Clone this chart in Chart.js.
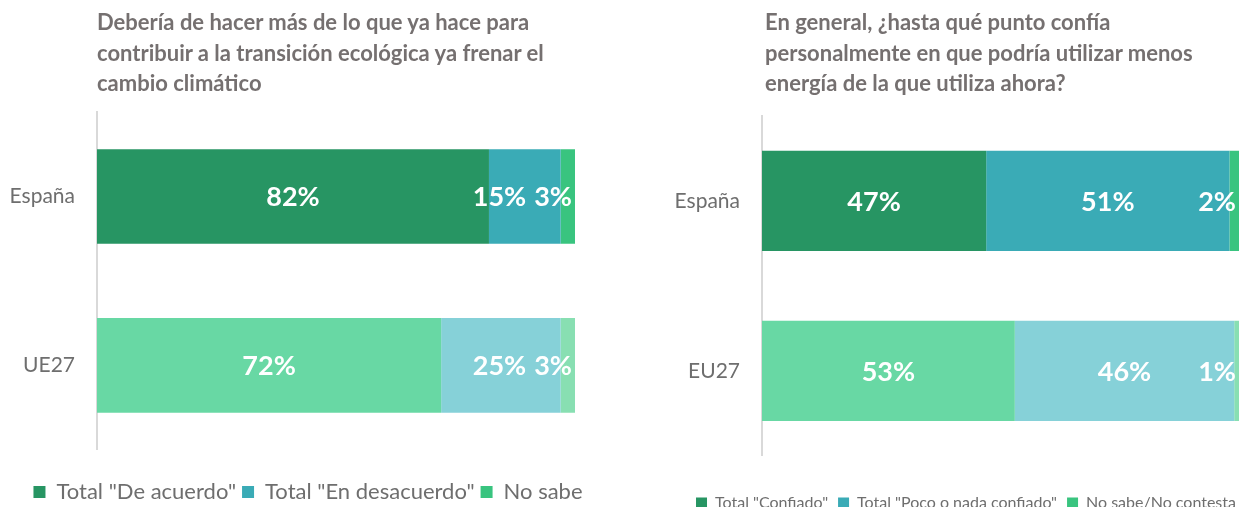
<!DOCTYPE html>
<html>
<head>
<meta charset="utf-8">
<script src="https://cdn.jsdelivr.net/npm/chart.js@4.4.1/dist/chart.umd.min.js"></script>
<style>
  html, body { margin:0; padding:0; width:1239px; height:507px; overflow:hidden; background:#fff; position:relative; }
  .title { position:absolute; font-family: Lato, "Open Sans", sans-serif; font-weight:bold; font-size:22px; line-height:30.5px; color:#757070; white-space:nowrap; }
  .box { position:absolute; }
</style>
</head>
<body>
<div class="box" style="left:-24px; top:0; width:664px; height:513px;"><canvas id="c1"></canvas></div>
<div class="box" style="left:620px; top:0; width:692px; height:521px;"><canvas id="c2"></canvas></div>
<div class="title" id="t1" style="left:97px; top:7px;"></div>
<div class="title" id="t2" style="left:765px; top:7px;"></div>
<script>
// ---- Data ----
const leftTitle = ['Debería de hacer más de lo que ya hace para', 'contribuir a la transición ecológica ya frenar el', 'cambio climático'];
const leftCategories = ['España', 'UE27'];
const leftSeries = ['Total "De acuerdo"', 'Total "En desacuerdo"', 'No sabe'];
const leftAgree = [82, 72];
const leftDisagree = [15, 25];
const leftDontKnow = [3, 3];

const rightTitle = ['En general, ¿hasta qué punto confía', 'personalmente en que podría utilizar menos', 'energía de la que utiliza ahora?'];
const rightCategories = ['España', 'EU27'];
const rightSeries = ['Total "Confiado"', 'Total "Poco o nada confiado"', 'No sabe/No contesta'];
const rightConfident = [47, 53];
const rightNotConfident = [51, 46];
const rightDontKnow = [2, 1];

// colours per series: [España row, EU row]
const col1 = ['#279563', '#68D8A4'];
const col2 = ['#3AABB6', '#86D1D8'];
const col3 = ['#39C47F', '#88DFB2'];

document.getElementById('t1').innerHTML = leftTitle.join('<br>');
document.getElementById('t2').innerHTML = rightTitle.join('<br>');

const FONT = 'Lato, "Open Sans", sans-serif';

const segLabels = {
  id: 'segLabels',
  afterDatasetsDraw(chart) {
    const ctx = chart.ctx, area = chart.chartArea;
    ctx.save();
    ctx.font = 'bold 27px ' + FONT;
    ctx.fillStyle = '#ffffff';
    ctx.textAlign = 'center';
    ctx.textBaseline = 'middle';
    const n = chart.data.labels.length;
    for (let i = 0; i < n; i++) {
      const items = [];
      chart.data.datasets.forEach((ds, d) => {
        const el = chart.getDatasetMeta(d).data[i];
        const txt = ds.data[i] + '%';
        items.push({ x: (el.base + el.x) / 2, y: el.y, w: ctx.measureText(txt).width, txt });
      });
      let limit = area.right - 3;
      for (let k = items.length - 1; k >= 0; k--) {
        const it = items[k];
        if (it.x + it.w / 2 > limit) it.x = limit - it.w / 2;
        limit = it.x - it.w / 2 - 8;
      }
      items.forEach(it => ctx.fillText(it.txt, it.x, it.y + 1));
    }
    ctx.restore();
  }
};

function makeChart(id, cats, names, s1, s2, s3, opt) {
  const ds = [s1, s2, s3].map((arr, k) => ({
    label: names[k],
    data: arr,
    backgroundColor: [col1, col2, col3][k],
    borderWidth: 0,
    barPercentage: opt.barPct,
    categoryPercentage: 1.0
  }));
  return new Chart(document.getElementById(id), {
    type: 'bar',
    data: { labels: cats, datasets: ds },
    plugins: [segLabels],
    options: {
      indexAxis: 'y',
      responsive: true,
      maintainAspectRatio: false,
      animation: false,
      layout: { padding: { top: opt.top, right: 0, left: 0, bottom: 0 } },
      scales: {
        x: { stacked: true, min: 0, max: 100, display: false },
        y: {
          stacked: true,
          grid: { display: false, drawTicks: false },
          border: { display: true, color: '#d9d9d9', width: 2 },
          ticks: { color: '#6e6e6e', font: { family: FONT, size: 21 }, padding: 22 },
          afterFit(scale) { scale.width = opt.axisX; }
        },
        spacer: {
          type: 'category',
          position: 'right',
          display: true,
          grid: { display: false, drawTicks: false },
          border: { display: false },
          ticks: { display: false },
          afterFit(scale) { scale.width = opt.rightGap; }
        }
      },
      plugins: {
        tooltip: { enabled: false },
        legend: {
          position: 'bottom',
          title: { display: true, text: ' ', font: { size: 1 }, padding: { top: opt.legendGap, bottom: 0 } },
          labels: {
            color: '#6e6e6e',
            font: { family: FONT, size: opt.legendSize },
            boxWidth: opt.box, boxHeight: opt.box,
            padding: opt.itemPad
          }
        }
      }
    }
  });
}

makeChart('c1', leftCategories, leftSeries, leftAgree, leftDisagree, leftDontKnow,
  { barPct: 0.56, top: 112, rightGap: 65, axisX: 121, legendSize: 22, box: 12, legendGap: 24, itemPad: 6 });
makeChart('c2', rightCategories, rightSeries, rightConfident, rightNotConfident, rightDontKnow,
  { barPct: 0.59, top: 116, rightGap: 73, axisX: 142, legendSize: 16, box: 11, legendGap: 28, itemPad: 10 });
</script>
</body>
</html>
